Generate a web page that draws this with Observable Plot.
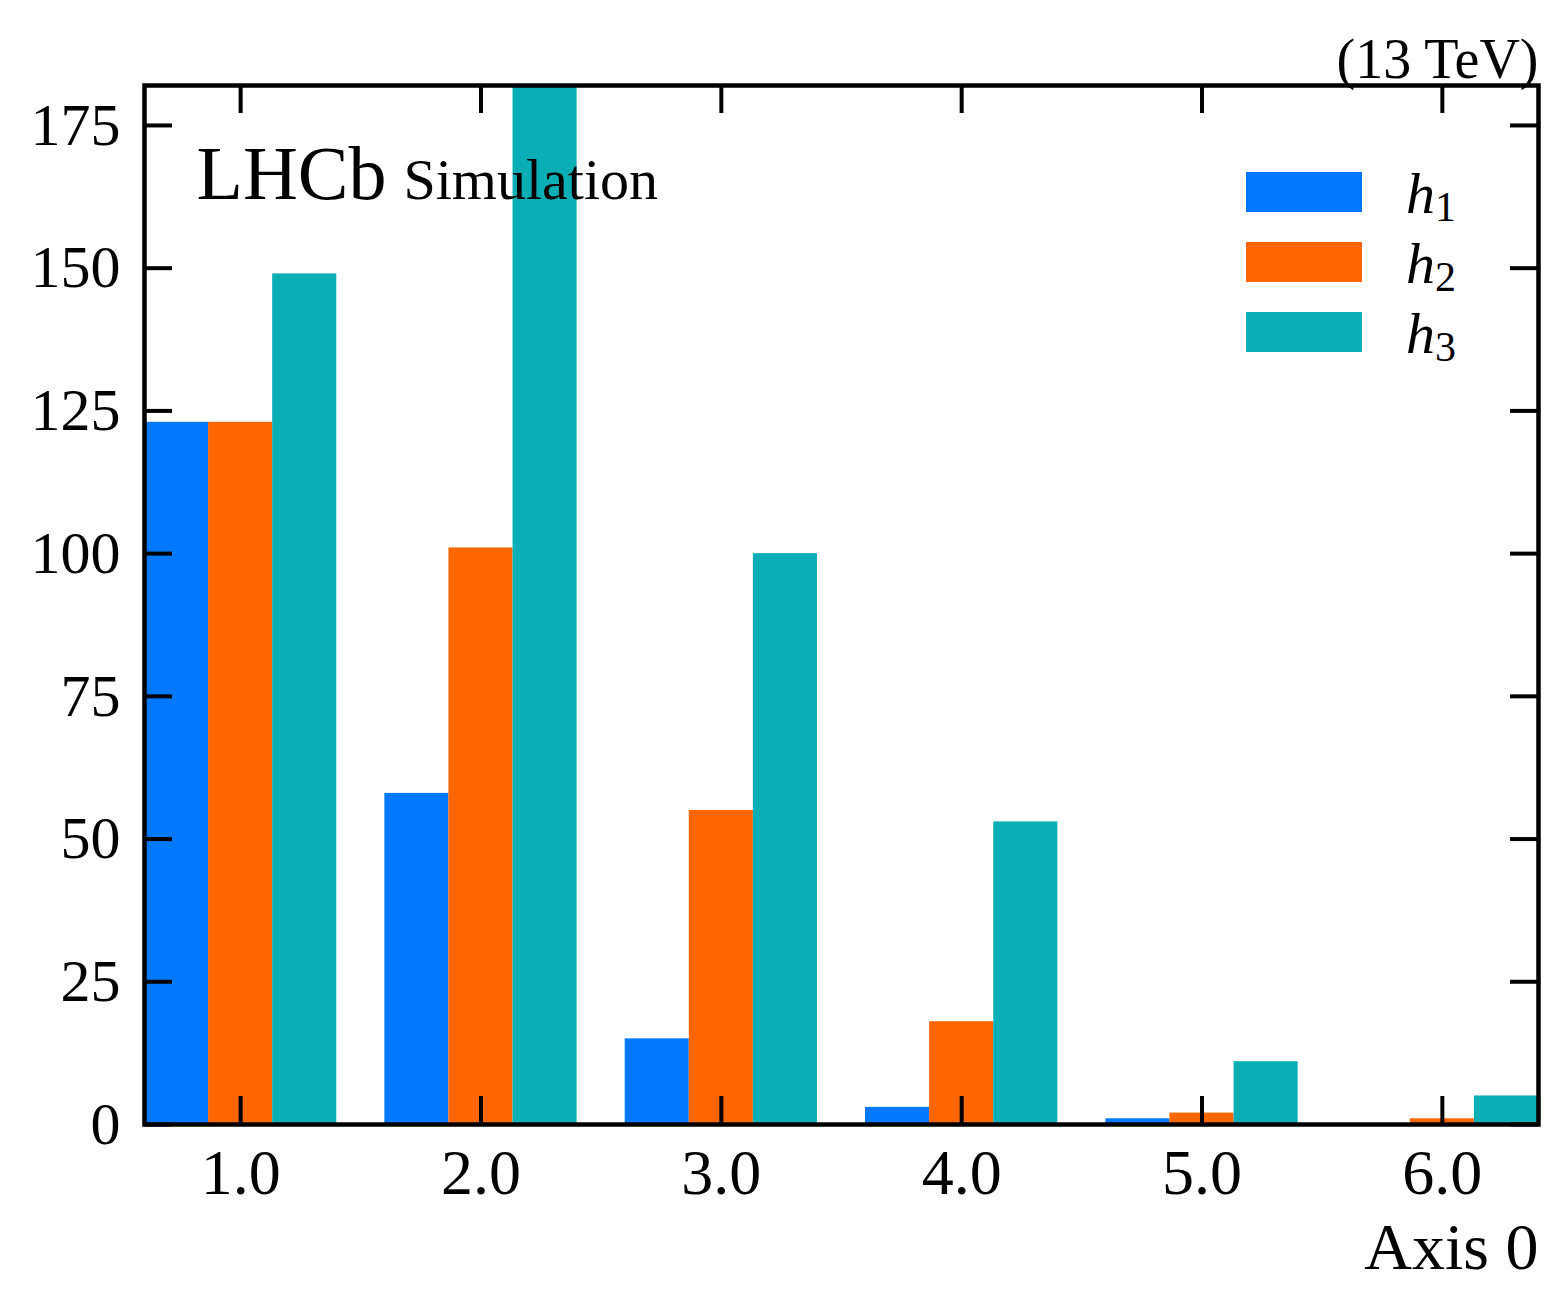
<!DOCTYPE html>
<html>
<head>
<meta charset="utf-8">
<script src="https://cdn.jsdelivr.net/npm/d3@7"></script>
<script src="https://cdn.jsdelivr.net/npm/@observablehq/plot@0.6"></script>
<style>
  html, body { margin: 0; padding: 0; background: #fff; }
  #chart svg { display: block; }
</style>
</head>
<body>
<div id="chart"></div>
<script>
// ---- data ----
const bins = [1, 2, 3, 4, 5, 6];
const seriesNames = ["h1", "h2", "h3"];
const seriesSubs = ["1", "2", "3"];
const h1 = [123, 58, 15, 3, 1, 0];
const h2 = [123, 101, 55, 18, 2, 1];
const h3 = [149, 195, 100, 53, 11, 5];
const colors = ["#0079FF", "#FF6600", "#0AAFB6"];
const xTicks = [1, 2, 3, 4, 5, 6];
const yTicks = [0, 25, 50, 75, 100, 125, 150, 175];
const xDomain = [0.6, 6.4];
const yDomain = [0, 182];
const xLabel = "Axis 0";
const energyLabel = "(13 TeV)";
const expLabel = "LHCb";
const statusLabel = "Simulation";

// ---- layout ----
const W = 1568, H = 1313;
const mL = 144, mR = 30, mT = 85, mB = 189;
const innerW = W - mL - mR, innerH = H - mT - mB;
const tickLen = 28;
const font = "Liberation Serif, Times New Roman, serif";

const allSeries = [h1, h2, h3];
const groupWidth = 0.8;
const bw = groupWidth / seriesNames.length;
const rows = [];
allSeries.forEach((vals, i) => {
  bins.forEach((b, j) => {
    const x1 = b - groupWidth / 2 + i * bw;
    rows.push({x1, x2: x1 + bw, y: vals[j], series: seriesNames[i]});
  });
});

const plot = Plot.plot({
  width: W,
  height: H,
  marginLeft: mL,
  marginRight: mR,
  marginTop: mT,
  marginBottom: mB,
  style: {fontFamily: font, background: "#fff", color: "#000"},
  x: {domain: xDomain, axis: null},
  y: {domain: yDomain, axis: null},
  color: {domain: seriesNames, range: colors},
  marks: [
    Plot.rectY(rows, {x1: "x1", x2: "x2", y: "y", fill: "series", clip: true}),
    // inward ticks: bottom, top
    Plot.ruleX(xTicks, {x: d => d, y1: yDomain[1], y2: yDomain[0], insetTop: innerH - tickLen, stroke: "#000", strokeWidth: 4}),
    Plot.ruleX(xTicks, {x: d => d, y1: yDomain[1], y2: yDomain[0], insetBottom: innerH - tickLen, stroke: "#000", strokeWidth: 4}),
    // inward ticks: left, right
    Plot.ruleY(yTicks, {y: d => d, x1: xDomain[0], x2: xDomain[1], insetRight: innerW - tickLen, stroke: "#000", strokeWidth: 4}),
    Plot.ruleY(yTicks, {y: d => d, x1: xDomain[0], x2: xDomain[1], insetLeft: innerW - tickLen, stroke: "#000", strokeWidth: 4}),
    Plot.frame({stroke: "#000", strokeWidth: 4.5}),
    Plot.axisX({ticks: xTicks, tickSize: 0, tickPadding: 24, tickFormat: d3.format(".1f"), fontSize: 64, label: null}),
    Plot.axisY({ticks: yTicks, tickSize: 0, tickPadding: 24, fontSize: 60, label: null}),
    Plot.text([xLabel], {text: d => d, frameAnchor: "bottom-right", textAnchor: "end", lineAnchor: "bottom", dy: 144, fontSize: 66, fill: "#000"}),
    Plot.text([energyLabel], {text: d => d, frameAnchor: "top-right", textAnchor: "end", lineAnchor: "bottom", dy: -8, fontSize: 56, fill: "#000"}),
    Plot.text([expLabel], {text: d => d, frameAnchor: "top-left", textAnchor: "start", lineAnchor: "bottom", dx: 52, dy: 113, fontSize: 76, fill: "#000"}),
    Plot.text([statusLabel], {text: d => d, frameAnchor: "top-left", textAnchor: "start", lineAnchor: "bottom", dx: 259, dy: 113, fontSize: 58, fill: "#000"})
  ]
});

// ---- legend (inside the frame, top right) ----
const svg = d3.select(plot);
const lg = svg.append("g").attr("transform", `translate(${W - mR - 292},${mT + 87})`);
seriesNames.forEach((name, i) => {
  const row = lg.append("g").attr("transform", `translate(0,${i * 70})`);
  row.append("rect").attr("width", 116).attr("height", 40).attr("fill", colors[i]);
  const t = row.append("text")
    .attr("x", 160).attr("y", 41)
    .attr("text-anchor", "start")
    .attr("font-family", font)
    .attr("font-size", 58)
    .attr("fill", "#000");
  t.append("tspan").attr("font-style", "italic").text("h");
  t.append("tspan").attr("font-size", 42).attr("dy", 8).text(seriesSubs[i]);
});

document.getElementById("chart").appendChild(plot);
</script>
</body>
</html>
